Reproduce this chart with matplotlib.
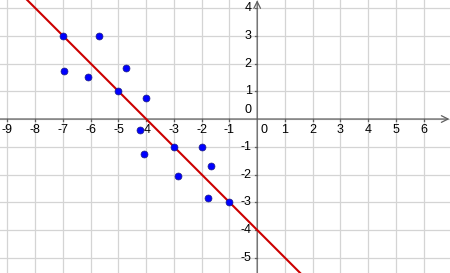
import matplotlib
matplotlib.use('Agg')
import matplotlib.pyplot as plt

# scatter points
xs = [-7.0, -5.7, -6.95, -6.1, -4.73, -5.0, -4.0, -4.24,
      -4.07, -3.0, -2.0, -1.66, -2.85, -1.79, -1.0]
ys = [3.0, 3.0, 1.73, 1.51, 1.84, 1.0, 0.77, -0.4,
      -1.26, -1.0, -1.0, -1.71, -2.07, -2.84, -3.0]

# fitted line y = m*x + b
line_m = -1.0
line_b = -4.0

x_ticks = [-9, -8, -7, -6, -5, -4, -3, -2, -1, 0, 1, 2, 3, 4, 5, 6]
y_ticks = [-5, -4, -3, -2, -1, 0, 1, 2, 3, 4]

xmin, xmax = -9.27, 6.95
ymin, ymax = -5.55, 4.29

plt.rcParams['font.family'] = ['Liberation Sans', 'DejaVu Sans']

fig = plt.figure(figsize=(4.5, 2.73), dpi=100)
ax = fig.add_axes([0, 0, 1, 1])
ax.set_xlim(xmin, xmax)
ax.set_ylim(ymin, ymax)
ax.axis('off')

# grid
for x in range(-9, 7):
    ax.axvline(x, color='#d4d4d4', lw=0.9, zorder=0)
for y in range(-5, 5):
    ax.axhline(y, color='#d4d4d4', lw=0.9, zorder=0)

# axes with arrows
ax.annotate('', xy=(xmax - 0.02, 0), xytext=(xmin, 0),
            arrowprops=dict(arrowstyle='->', color='#606060', lw=0.9,
                            mutation_scale=12, shrinkA=0, shrinkB=0))
ax.annotate('', xy=(0, ymax - 0.01), xytext=(0, ymin),
            arrowprops=dict(arrowstyle='->', color='#606060', lw=0.9,
                            mutation_scale=12, shrinkA=0, shrinkB=0))

# tick marks and labels
for x in x_ticks:
    if x != 0:
        ax.plot([x, x], [0, -0.08], color='#606060', lw=0.9)
        ax.text(x, -0.18, f'{x}', ha='center', va='top', fontsize=9)
ax.text(0.12, -0.18, '0', ha='left', va='top', fontsize=9)
for y in y_ticks:
    if y != 0:
        ax.plot([-0.08, 0], [y, y], color='#606060', lw=0.9)
        ax.text(-0.2, y, f'{y}', ha='right', va='center', fontsize=9)
ax.text(-0.2, 0.1, '0', ha='right', va='bottom', fontsize=9)

# line
lx = [xmin, xmax]
ly = [line_m * v + line_b for v in lx]
ax.plot(lx, ly, color='#cc0000', lw=1.5, zorder=3)

# points
ax.plot(xs, ys, 'o', color='#0000ff', markeredgecolor='#202080',
        markeredgewidth=0.5, markersize=5, zorder=4)

plt.savefig('out.png', dpi=100)
